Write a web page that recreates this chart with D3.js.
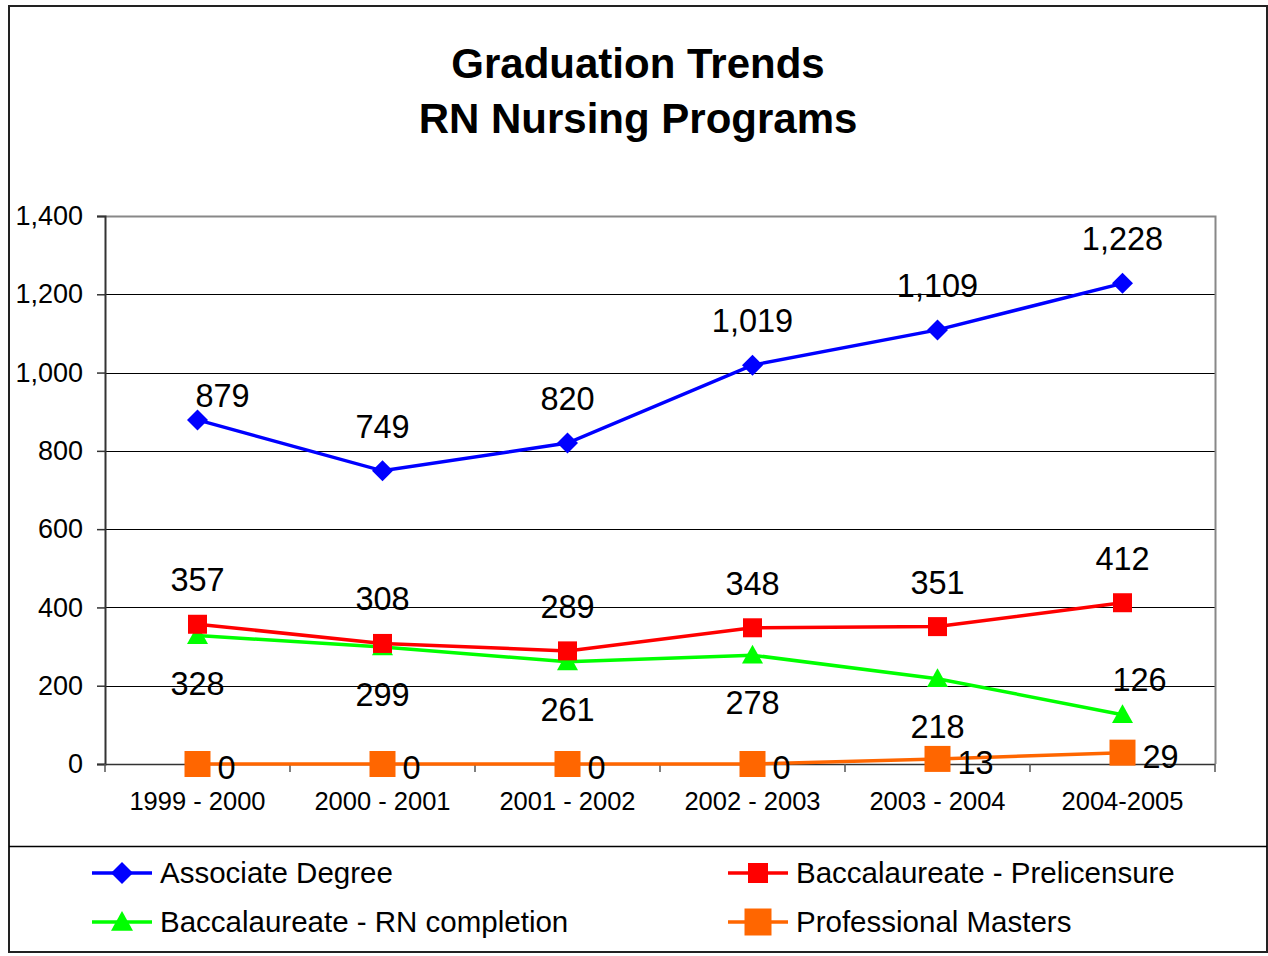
<!DOCTYPE html>
<html><head><meta charset="utf-8">
<script src="https://cdn.jsdelivr.net/npm/d3@7/dist/d3.min.js"></script>
<style>body{margin:0;background:#fff}svg{display:block;font-family:"Liberation Sans",Arial,sans-serif}</style>
</head><body><svg id="c" width="1268" height="956"></svg>
<script>
const categories = ["1999 - 2000","2000 - 2001","2001 - 2002","2002 - 2003","2003 - 2004","2004-2005"];
const associate = [879, 749, 820, 1019, 1109, 1228];
const baccPrelicensure = [357, 308, 289, 348, 351, 412];
const baccRNCompletion = [328, 299, 261, 278, 218, 126];
const professionalMasters = [0, 0, 0, 0, 13, 29];
const yTicks = [0, 200, 400, 600, 800, 1000, 1200, 1400];
const titleLines = ["Graduation Trends", "RN Nursing Programs"];

const series = [
  {name:"Associate Degree", values:associate, color:"#0000ff", marker:"diamond", size:21, label:"above"},
  {name:"Baccalaureate - Prelicensure", values:baccPrelicensure, color:"#ff0000", marker:"square", size:19, label:"above"},
  {name:"Baccalaureate - RN completion", values:baccRNCompletion, color:"#00ff00", marker:"triangle", size:21, label:"below"},
  {name:"Professional Masters", values:professionalMasters, color:"#ff6600", marker:"square", size:26, label:"right"}
];
// manual label adjustments (series index, point index) -> [dx, dy]
const labelAdjust = {"0,0":[25,20], "2,5":[17,-83]};

const svg = d3.select("#c");
const fmt = d3.format(",");
// outer frame
svg.append("rect").attr("x",9).attr("y",6).attr("width",1258).attr("height",946)
  .attr("fill","none").attr("stroke","#222").attr("stroke-width",2);
svg.append("line").attr("x1",9).attr("x2",1267).attr("y1",846.5).attr("y2",846.5).attr("stroke","#000").attr("stroke-width",1.5);

// title
svg.append("g").selectAll("text").data(titleLines).join("text")
  .attr("x",638).attr("y",(d,i)=>78+i*55).attr("text-anchor","middle")
  .attr("font-size",42).attr("font-weight","bold").attr("fill","#000").text(d=>d);

const L=105, R=1215, T=216, B=764;
const x = d3.scaleBand().domain(categories).range([L,R]);
const y = d3.scaleLinear().domain([0,1400]).range([B,T]);

// gridlines
svg.append("g").selectAll("line").data(yTicks.filter(t=>t>0 && t<1400)).join("line")
  .attr("x1",L).attr("x2",R).attr("y1",d=>Math.round(y(d))+0.5).attr("y2",d=>Math.round(y(d))+0.5)
  .attr("stroke","#000").attr("stroke-width",1);
// plot border top/right gray
svg.append("path").attr("d",`M${L},${T+0.5}H${R+0.5}V${B}`).attr("fill","none").attr("stroke","#888").attr("stroke-width",2);

// y axis
const yAxis = svg.append("g").attr("transform",`translate(${L},0)`)
  .call(d3.axisLeft(y).tickValues(yTicks).tickFormat(fmt).tickSize(8).tickPadding(14));
yAxis.select(".domain").attr("stroke","#333").attr("stroke-width",2);
yAxis.selectAll(".tick line").attr("stroke","#333").attr("stroke-width",1.5);
yAxis.selectAll("text").attr("font-size",27).attr("fill","#000").attr("font-family","Liberation Sans, Arial, sans-serif");

// x axis
const xAxis = svg.append("g").attr("transform",`translate(0,${B})`)
  .call(d3.axisBottom(x).tickSize(0).tickPadding(28));
xAxis.select(".domain").remove();
xAxis.selectAll("text").attr("font-size",25.5).attr("fill","#000").attr("font-family","Liberation Sans, Arial, sans-serif");
svg.append("line").attr("x1",L).attr("x2",R).attr("y1",B+0.5).attr("y2",B+0.5).attr("stroke","#333").attr("stroke-width",1.5);
svg.append("g").selectAll("line").data(d3.range(categories.length+1)).join("line")
  .attr("x1",i=>L+i*x.step()).attr("x2",i=>L+i*x.step()).attr("y1",B).attr("y2",B+8)
  .attr("stroke","#555").attr("stroke-width",1.5);

function markerPath(type,s){
  const h=s/2;
  if(type==="diamond") return `M0,${-h}L${h},0L0,${h}L${-h},0Z`;
  if(type==="square") return `M${-h},${-h}H${h}V${h}H${-h}Z`;
  if(type==="triangle") return `M0,${-h}L${h},${h*0.8}L${-h},${h*0.8}Z`;
}
const cx = c=>x(c)+x.bandwidth()/2;
const line = d3.line().x(d=>cx(d.c)).y(d=>y(d.v));

series.slice().reverse().forEach(s=>{
  const pts = s.values.map((v,i)=>({c:categories[i],v}));
  svg.append("path").datum(pts).attr("d",line).attr("fill","none").attr("stroke",s.color).attr("stroke-width",3.5);
  svg.append("g").selectAll("path").data(pts).join("path")
    .attr("transform",d=>`translate(${cx(d.c)},${y(d.v)})`).attr("d",markerPath(s.marker,s.size)).attr("fill",s.color);
});
// labels
series.forEach((s,si)=>{
  s.values.forEach((v,i)=>{
    let px=cx(categories[i]), py=y(v);
    let lx=px, ly=py, anchor="middle";
    if(s.label==="above"){ ly=py-33; }
    else if(s.label==="below"){ ly=py+59; }
    else { lx=px+20; ly=py+15; anchor="start"; }
    const adj = labelAdjust[si+","+i];
    if(adj){ lx+=adj[0]; ly+=adj[1]; }
    svg.append("text").attr("x",lx).attr("y",ly).attr("text-anchor",anchor)
      .attr("font-size",32.5).attr("fill","#000").text(fmt(v));
  });
});

// legend
const legendPos = [[92,873],[728,873],[92,922],[728,922]];
series.forEach((s,i)=>{
  const [lx,ly]=legendPos[i];
  const g=svg.append("g").attr("transform",`translate(${lx},${ly})`);
  g.append("line").attr("x1",0).attr("x2",60).attr("y1",0).attr("y2",0).attr("stroke",s.color).attr("stroke-width",3.5);
  g.append("path").attr("transform","translate(30,0)").attr("d",markerPath(s.marker,s.size+1)).attr("fill",s.color);
  g.append("text").attr("x",68).attr("y",10).attr("font-size",29.5).attr("fill","#000").text(s.name);
});
</script></body></html>
